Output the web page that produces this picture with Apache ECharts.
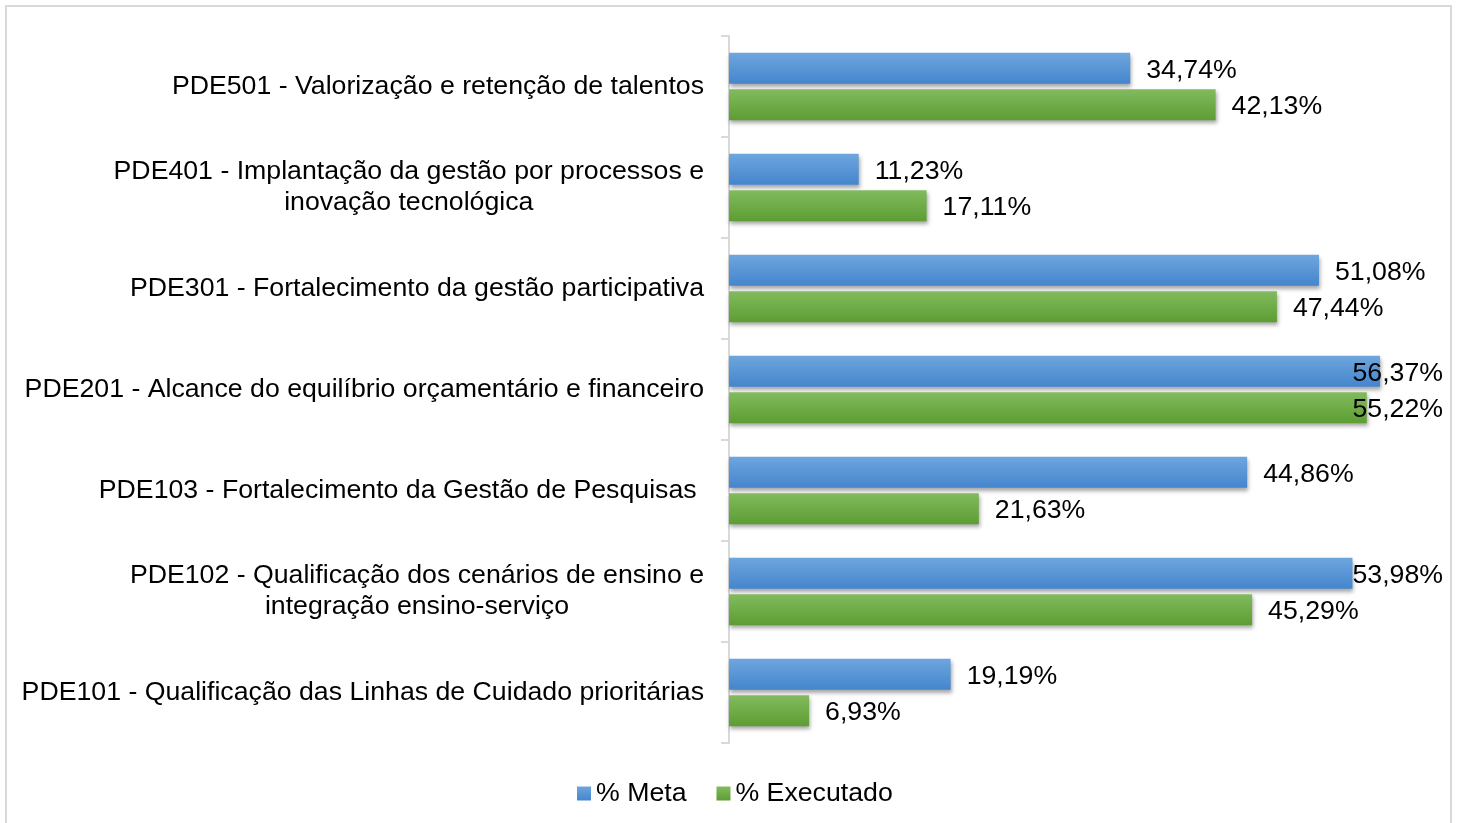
<!DOCTYPE html>
<html>
<head>
<meta charset="utf-8">
<title>PDE - % Meta x % Executado</title>
<script src="https://cdn.jsdelivr.net/npm/echarts@6/dist/echarts.min.js"></script>
<style>
  html, body { margin: 0; padding: 0; background: #fff; }
  #chart { width: 1459px; height: 823px; }
</style>
</head>
<body>
<div id="chart"></div>
<script>
// ── Data ──────────────────────────────────────────────────────────────────────
// Top-to-bottom order as in the picture.
const categories = [
  'PDE501 - Valorização e retenção de talentos',
  'PDE401 - Implantação da gestão por processos e\ninovação tecnológica',
  'PDE301 - Fortalecimento da gestão participativa',
  'PDE201 - Alcance do equilíbrio orçamentário e financeiro',
  'PDE103 - Fortalecimento da Gestão de Pesquisas ',
  'PDE102 - Qualificação dos cenários de ensino e\nintegração ensino-serviço',
  'PDE101 - Qualificação das Linhas de Cuidado prioritárias',
];
const seriesNames = ['% Meta', '% Executado'];
const metaValues = [34.74, 11.23, 51.08, 56.37, 44.86, 53.98, 19.19];
const executadoValues = [42.13, 17.11, 47.44, 55.22, 21.63, 45.29, 6.93];

// ── Styling helpers ───────────────────────────────────────────────────────────
const FONT = 'Arial, "Liberation Sans", sans-serif';
const FS = 26.7;
const LABEL_RIGHT_LIMIT = 1443; // Excel keeps labels inside the chart area

function grad(top, bottom) {
  return new echarts.graphic.LinearGradient(0, 0, 0, 1, [
    { offset: 0, color: top },
    { offset: 1, color: bottom },
  ]);
}

const pct = (v) => v.toFixed(2).replace('.', ',') + '%';

function barSeries(name, data, top, bottom) {
  return {
    name,
    type: 'bar',
    data,
    barWidth: 31,
    barGap: '17%',
    itemStyle: {
      color: grad(top, bottom),
      shadowColor: 'rgba(0,0,0,0.35)',
      shadowBlur: 4,
      shadowOffsetY: 3,
      shadowOffsetX: 1,
    },
    label: {
      show: true,
      position: 'right',
      distance: 16,
      color: '#000',
      fontFamily: FONT,
      fontSize: FS,
      formatter: (p) => pct(p.value),
    },
    labelLayout: (params) => {
      const r = params.labelRect;
      const overflow = r.x + r.width - LABEL_RIGHT_LIMIT;
      return { dx: overflow > 0 ? -overflow : 0, dy: 2 };
    },
  };
}

// ── Chart ─────────────────────────────────────────────────────────────────────
const chart = echarts.init(document.getElementById('chart'), null, { renderer: 'canvas' });

chart.setOption({
  animation: false,
  backgroundColor: '#fff',
  textStyle: { fontFamily: FONT },
  graphic: [{
    type: 'rect',
    shape: { x: 6, y: 6, width: 1445, height: 840 },
    style: { fill: 'none', stroke: '#d9d9d9', lineWidth: 2 },
    silent: true,
  }],
  legend: {
    data: seriesNames,
    bottom: 11,
    left: 572,
    icon: 'rect',
    itemWidth: 14,
    itemHeight: 14,
    itemGap: 30,
    textStyle: { fontFamily: FONT, fontSize: FS, color: '#000' },
  },
  grid: { left: 729, top: 36, width: 693, height: 707 },
  xAxis: {
    type: 'value',
    min: 0,
    max: 60,
    show: false,
  },
  yAxis: {
    type: 'category',
    inverse: true,
    data: categories,
    axisLine: { show: true, lineStyle: { color: '#d9d9d9', width: 2 } },
    axisTick: { show: true, length: 8, lineStyle: { color: '#d9d9d9', width: 2 } },
    axisLabel: {
      margin: 25,
      color: '#000',
      fontFamily: FONT,
      fontSize: FS,
      lineHeight: 31,
      formatter: (v) => v.split('\n').map((l) => '{c|' + l + '}').join('\n'),
      rich: { c: { align: 'center', fontSize: FS, lineHeight: 31, color: '#000', fontFamily: FONT } },
    },
  },
  series: [
    barSeries(seriesNames[0], metaValues, '#6ea6de', '#4485cd'),
    barSeries(seriesNames[1], executadoValues, '#82bb5e', '#5d9d33'),
  ],
});
</script>
</body>
</html>
